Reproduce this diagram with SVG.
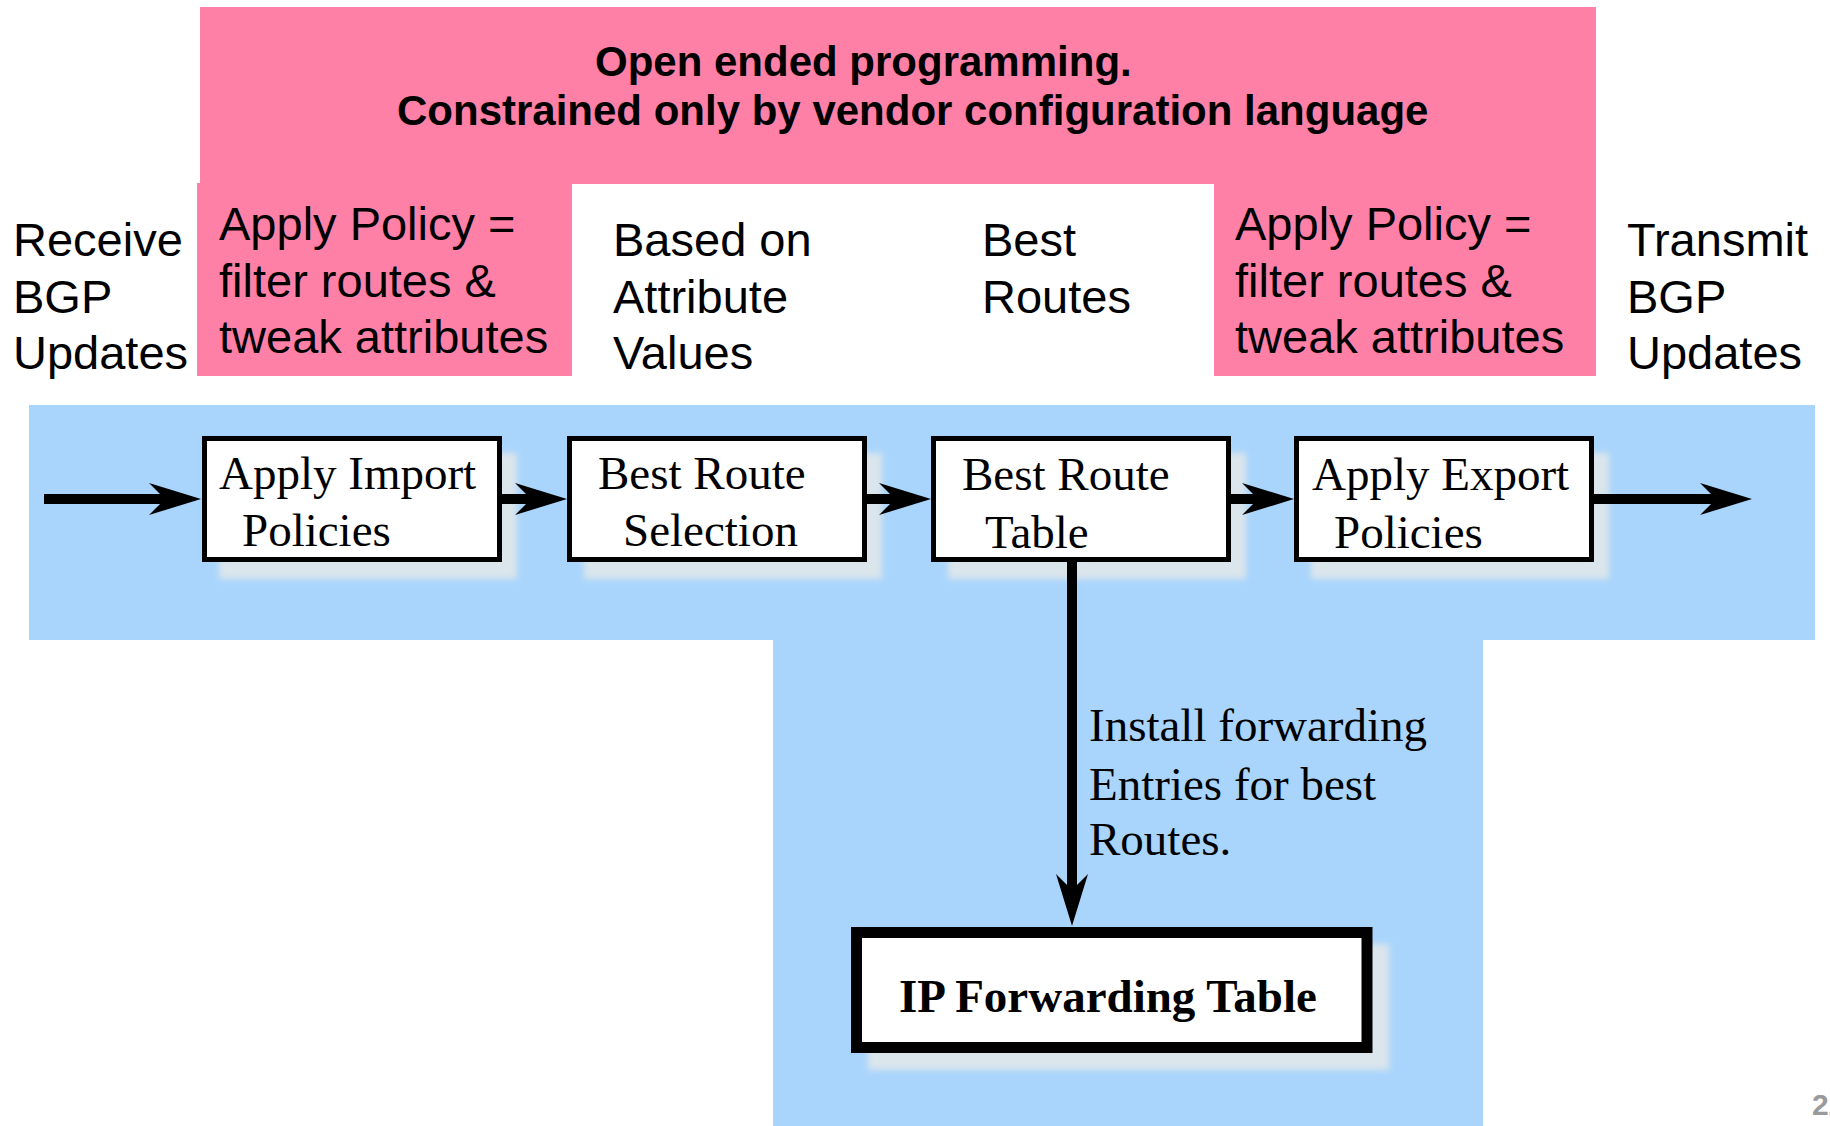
<svg xmlns="http://www.w3.org/2000/svg" width="1830" height="1126" viewBox="0 0 1830 1126">
<style>
.sans{font-family:"Liberation Sans",Arial,sans-serif;font-size:47px;fill:#000}
.hdr{font-family:"Liberation Sans",Arial,sans-serif;font-size:42px;font-weight:bold;fill:#000}
.serif{font-family:"Liberation Serif","Times New Roman",serif;font-size:47px;fill:#000}
.box{fill:#fff;stroke:#000;stroke-width:5}
.shadow{fill:#dbe5ec;filter:url(#blur)}
.pink{fill:#ff80a7}
.blue{fill:#a9d5fc}
.conn{stroke:#000;stroke-width:10;fill:none;marker-end:url(#ah)}
</style>
<defs>
<filter id="blur" x="-10%" y="-20%" width="120%" height="140%"><feGaussianBlur stdDeviation="3"/></filter>
<marker id="ah" markerUnits="userSpaceOnUse" viewBox="-25 -18 60 36" markerWidth="60" markerHeight="36" refX="0" refY="0" orient="auto">
<path d="M30,0 L-22,-16 L-6,0 L-22,16 Z" fill="#000"/>
</marker>
</defs>
<rect width="1830" height="1126" fill="#fff"/>
<g id="pink-regions">
<rect class="pink" x="200" y="7" width="1396" height="177"/>
<rect class="pink" x="197" y="183" width="375" height="193"/>
<rect class="pink" x="1214" y="183" width="382" height="193"/>
</g>
<g id="blue-regions">
<rect class="blue" x="29" y="405" width="1786" height="235"/>
<rect class="blue" x="773" y="639" width="710" height="487"/>
</g>
<g id="header-text">
<text class="hdr" x="595" y="76">Open ended programming.</text>
<text class="hdr" x="397" y="125">Constrained only by vendor configuration language</text>
</g>
<g id="label-receive">
<text class="sans" x="13" y="256">Receive</text>
<text class="sans" x="13" y="313">BGP</text>
<text class="sans" x="13" y="369">Updates</text>
</g>
<g id="label-import-policy">
<text class="sans" x="219" y="240">Apply Policy =</text>
<text class="sans" x="219" y="297">filter routes &amp;</text>
<text class="sans" x="219" y="353">tweak attributes</text>
</g>
<g id="label-based-on">
<text class="sans" x="613" y="256">Based on</text>
<text class="sans" x="613" y="313">Attribute</text>
<text class="sans" x="613" y="369">Values</text>
</g>
<g id="label-best-routes">
<text class="sans" x="982" y="256">Best</text>
<text class="sans" x="982" y="313">Routes</text>
</g>
<g id="label-export-policy">
<text class="sans" x="1235" y="240">Apply Policy =</text>
<text class="sans" x="1235" y="297">filter routes &amp;</text>
<text class="sans" x="1235" y="353">tweak attributes</text>
</g>
<g id="label-transmit">
<text class="sans" x="1627" y="256">Transmit</text>
<text class="sans" x="1627" y="313">BGP</text>
<text class="sans" x="1627" y="369">Updates</text>
</g>
<g id="node-import">
<rect class="shadow" x="219" y="453" width="298" height="126"/>
<rect class="box" x="204.5" y="438.5" width="295" height="121"/>
<text class="serif" x="219" y="489">Apply Import</text>
<text class="serif" x="242" y="546">Policies</text>
</g>
<g id="node-selection">
<rect class="shadow" x="584" y="453" width="298" height="126"/>
<rect class="box" x="569.5" y="438.5" width="295" height="121"/>
<text class="serif" x="598" y="489">Best Route</text>
<text class="serif" x="623" y="546">Selection</text>
</g>
<g id="node-table">
<rect class="shadow" x="948" y="453" width="298" height="126"/>
<rect class="box" x="933.5" y="438.5" width="295" height="121"/>
<text class="serif" x="962" y="490">Best Route</text>
<text class="serif" x="985" y="548">Table</text>
</g>
<g id="node-export">
<rect class="shadow" x="1311" y="453" width="298" height="126"/>
<rect class="box" x="1296.5" y="438.5" width="295" height="121"/>
<text class="serif" x="1312" y="490">Apply Export</text>
<text class="serif" x="1334" y="548">Policies</text>
</g>
<g id="node-fib">
<rect class="shadow" x="868" y="944" width="521" height="126"/>
<rect x="856.5" y="932.5" width="510.5" height="115" fill="#fff" stroke="#000" stroke-width="11"/>
<text class="serif" x="899" y="1012" font-weight="bold">IP Forwarding Table</text>
</g>
<g id="connectors">
<line class="conn" x1="44" y1="499" x2="171" y2="499"/>
<line class="conn" x1="502" y1="499" x2="537" y2="499"/>
<line class="conn" x1="866" y1="499" x2="901" y2="499"/>
<line class="conn" x1="1230" y1="499" x2="1264" y2="499"/>
<line class="conn" x1="1594" y1="499" x2="1722" y2="499"/>
<line class="conn" x1="1072" y1="562" x2="1072" y2="896"/>
<text class="serif" x="1089" y="741">Install forwarding</text>
<text class="serif" x="1089" y="800">Entries for best</text>
<text class="serif" x="1089" y="855">Routes.</text>
</g>
<text x="1812" y="1115" font-family="Liberation Sans,Arial,sans-serif" font-size="30" font-weight="bold" fill="#9a9a9a">22</text>
</svg>
